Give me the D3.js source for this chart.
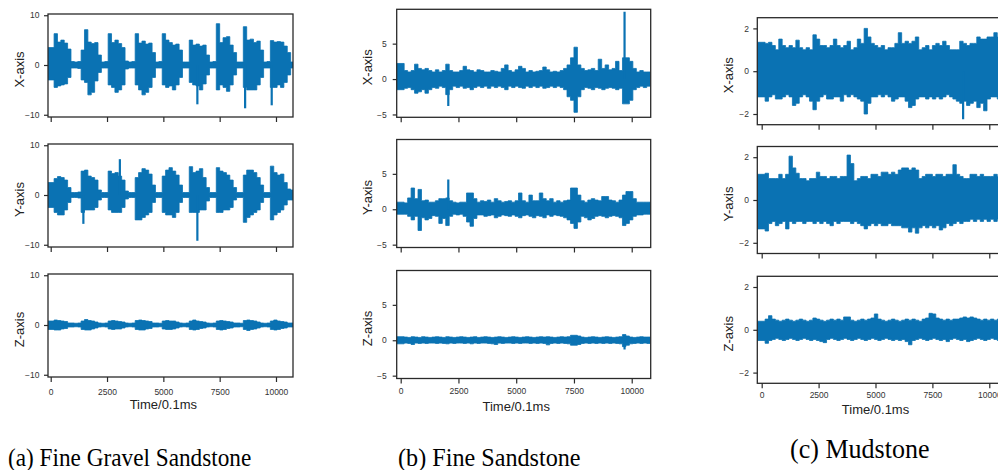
<!DOCTYPE html>
<html>
<head>
<meta charset="utf-8">
<script src="https://cdn.jsdelivr.net/npm/d3@7/dist/d3.min.js"></script>
<style>
  body { margin: 0; background: #fff; }
  svg { display: block; font-family: "Liberation Sans", Arial, sans-serif; }
</style>
</head>
<body>
<svg id="chart" width="998" height="470"></svg>
<script>
// --- Data: signal envelopes, one max/min value per bin of 150 samples ---
const binSize = 150;
const timeTicks = [0, 2500, 5000, 7500, 10000];
const gravelTicks = [-10, 0, 10];
const sandTicks = [-5, 0, 5];
const mudTicks = [-2, 0, 2];
const axisNames = ["X-axis", "Y-axis", "Z-axis"];
const captions = ["(a) Fine Gravel Sandstone", "(b) Fine Sandstone", "(c) Mudstone"];

// (a) Fine gravel sandstone
const gravelX_hi = [3.5,6.3,4.6,5.0,4.4,3.2, 0.7,0.6,0.7, 3.0,7.1,4.6,4.3,4.5,2.0, 0.6,0.7, 6.3,4.5,5.0,4.3,3.5,0.8, 0.6,0.7,
  6.3,4.4,4.8,4.2,4.4,2.5, 0.6,0.7, 6.3,5.0,4.5,4.0,4.2,3.0, 0.6,0.6, 5.0,4.0,4.2,3.8,4.0,2.0, 0.6,0.7,
  8.3,4.5,5.5,5.7,4.0,2.5, 0.6,0.6, 7.7,5.0,5.2,4.5,4.8,3.0, 0.6,0.7, 4.9,4.6,4.7,4.6,3.8,2.5, 0.6];
const gravelX_lo = [-3.0,-4.5,-4.2,-4.0,-3.8,-2.5, -0.6,-0.6,-0.7, -3.0,-3.5,-6.0,-5.5,-3.2,-1.5, -0.6,-0.6, -4.0,-4.5,-5.5,-5.0,-4.0,-0.8, -0.6,-0.6,
  -4.0,-5.0,-6.0,-5.5,-4.5,-2.5, -0.6,-0.6, -4.0,-4.5,-4.2,-5.0,-4.0,-2.5, -0.6,-0.6, -3.5,-4.0,-4.2,-5.0,-3.8,-2.0, -0.6,-0.6,
  -5.0,-4.0,-4.5,-5.3,-4.0,-2.0, -0.6,-0.6, -4.5,-5.0,-5.0,-5.0,-4.0,-2.5, -0.6,-0.6, -4.5,-4.5,-4.0,-4.5,-3.5,-2.0, -0.6];
const gravelX_spikes = [[6510, -7.9], [8630, -8.7], [9810, -8.1]];

const gravelY_hi = [2.5,3.3,3.7,3.5,3.0,1.5, 0.5,0.5,0.6, 4.8,5.0,3.8,3.5,3.0,1.0, 0.5,0.5, 4.8,4.3,4.5,3.8,3.0,0.8, 0.5,0.5,
  3.5,4.5,5.3,5.0,4.2,2.0, 0.5,0.5, 3.8,5.0,5.5,4.8,4.0,2.0, 0.5,0.5, 5.7,4.5,4.8,5.3,3.5,1.5, 0.5,0.5,
  5.5,4.8,4.5,4.0,3.0,1.5, 0.5,0.5, 4.0,5.0,5.0,4.5,3.5,2.0, 0.5,0.5, 5.8,4.5,4.0,4.2,2.5,1.2, 1.0];
const gravelY_lo = [-2.5,-3.5,-4.0,-4.0,-3.0,-1.5, -0.5,-0.5,-0.6, -3.5,-3.0,-3.0,-3.0,-2.5,-1.0, -0.5,-0.5, -3.0,-3.5,-3.5,-3.5,-2.5,-0.8, -0.5,-0.5,
  -5.0,-5.0,-4.5,-4.0,-3.5,-1.5, -0.5,-0.5, -3.5,-4.0,-4.0,-4.5,-3.5,-1.5, -0.5,-0.5, -3.5,-3.5,-3.5,-3.0,-3.0,-1.2, -0.5,-0.5,
  -3.5,-3.5,-3.0,-3.0,-2.5,-1.0, -0.5,-0.5, -5.5,-4.5,-4.0,-3.5,-3.0,-1.5, -0.5,-0.5, -5.0,-4.0,-3.5,-3.0,-2.0,-1.0, -1.0];
const gravelY_spikes = [[1450, -5.8], [3070, 7.2], [6510, -9.2]];

const gravelZ_hi = [0.8,1.0,0.9,0.8,0.7,0.4, 0.4,0.35,0.4, 0.8,1.1,0.9,0.8,0.6,0.4, 0.35,0.4, 0.8,0.9,0.8,0.7,0.6,0.4, 0.35,0.4,
  0.9,1.0,0.9,0.8,0.7,0.4, 0.4,0.35, 0.8,0.9,0.8,0.8,0.6,0.4, 0.35,0.4, 0.8,1.0,0.8,0.7,0.6,0.4, 0.35,0.4,
  0.8,0.9,0.8,0.7,0.6,0.4, 0.4,0.35, 0.9,1.0,0.9,0.8,0.6,0.4, 0.35,0.4, 0.8,1.0,0.8,0.7,0.6,0.4, 0.4];
const gravelZ_lo = [-0.9,-1.0,-1.0,-0.8,-0.7,-0.4, -0.4,-0.35,-0.4, -0.9,-1.0,-1.0,-0.8,-0.6,-0.4, -0.35,-0.4, -0.8,-0.9,-0.8,-0.8,-0.6,-0.4, -0.35,-0.4,
  -0.9,-1.0,-1.0,-0.8,-0.7,-0.4, -0.4,-0.35, -0.8,-0.9,-0.9,-0.8,-0.6,-0.4, -0.35,-0.4, -0.9,-1.0,-0.9,-0.7,-0.6,-0.4, -0.35,-0.4,
  -0.9,-1.0,-0.9,-0.7,-0.6,-0.4, -0.4,-0.35, -0.9,-1.1,-0.9,-0.8,-0.6,-0.4, -0.35,-0.4, -0.9,-1.0,-0.9,-0.7,-0.6,-0.4, -0.4];

// (b) Fine sandstone
const sandX_hi = [2.2,1.2,1.0,1.2,2.1,1.5,1.3,1.5,1.2,1.0,1.3,1.0,1.2,2.1,1.2,1.0,1.0,1.2,1.8,1.3,1.2,1.0,1.3,1.2,
  1.0,1.0,1.2,1.1,1.0,1.5,2.0,1.2,1.0,1.3,1.8,1.5,1.0,1.2,1.0,1.1,1.2,1.7,1.3,1.0,1.1,1.0,1.2,1.5,
  2.0,3.0,4.5,2.0,1.5,1.2,1.3,1.5,1.2,2.8,1.5,2.0,1.3,1.5,2.5,1.2,3.0,3.0,2.5,1.5,1.0,1.2,1.0,1.0];
const sandX_lo = [-1.5,-1.3,-1.2,-1.5,-2.0,-1.8,-1.5,-2.0,-1.5,-1.2,-1.3,-1.0,-1.2,-2.2,-1.5,-1.0,-1.2,-1.0,-1.3,-1.2,-1.5,-1.2,-1.0,-1.2,
  -1.0,-1.3,-1.0,-1.2,-1.0,-1.2,-1.5,-1.0,-1.2,-1.0,-1.2,-1.3,-1.0,-1.2,-1.0,-1.2,-1.0,-1.3,-1.2,-1.0,-1.2,-1.0,-1.2,-1.5,
  -2.5,-3.0,-4.7,-2.5,-1.5,-1.2,-1.3,-1.5,-1.2,-1.3,-1.5,-1.3,-1.2,-1.3,-1.5,-1.3,-3.5,-3.5,-3.0,-1.5,-1.2,-1.0,-1.2,-1.0];
const sandX_spikes = [[2060, -3.8], [9690, 9.5]];

const sandY_hi = [1.0,0.9,1.6,3.0,1.5,2.8,1.2,1.3,1.0,1.0,1.2,1.5,1.5,1.6,1.2,1.0,0.9,1.0,1.0,2.3,2.3,1.5,1.0,1.2,
  1.1,1.3,1.0,1.5,1.2,1.0,1.1,1.2,1.0,1.2,2.3,1.2,1.0,2.0,1.2,1.2,2.3,1.5,1.2,1.5,1.0,1.2,1.0,1.2,
  1.3,3.0,3.0,2.0,1.2,1.0,1.3,1.5,1.3,1.2,1.8,1.8,1.3,1.2,1.0,1.3,2.0,2.5,2.5,1.5,1.0,1.0,1.0,1.0];
const sandY_lo = [-0.7,-0.7,-1.0,-1.5,-1.0,-3.0,-1.2,-1.5,-1.3,-0.9,-1.0,-2.0,-1.3,-2.3,-1.0,-0.7,-0.8,-0.7,-1.0,-1.8,-2.4,-1.3,-0.8,-0.8,
  -1.0,-0.9,-0.8,-1.2,-1.0,-0.8,-0.9,-1.0,-0.8,-1.0,-1.2,-0.9,-0.8,-1.0,-1.2,-0.9,-1.0,-1.2,-0.8,-1.0,-0.8,-0.9,-1.0,-1.2,
  -1.5,-2.0,-2.7,-1.8,-1.0,-1.2,-1.5,-1.3,-1.0,-0.9,-1.0,-1.2,-1.0,-0.9,-1.0,-1.2,-2.3,-2.0,-1.5,-1.0,-0.8,-0.8,-0.7,-0.7];
const sandY_spikes = [[2060, 4.2]];

const sandZ_hi = [0.5,0.45,0.4,0.5,0.45,0.4,0.5,0.45,0.4,0.45,0.5,0.45,0.4,0.5,0.45,0.4,0.45,0.5,0.45,0.4,0.45,0.5,0.4,0.45,
  0.5,0.45,0.4,0.45,0.5,0.45,0.4,0.45,0.5,0.45,0.4,0.45,0.5,0.45,0.4,0.45,0.5,0.45,0.5,0.45,0.4,0.45,0.5,0.45,
  0.5,0.7,0.7,0.6,0.45,0.4,0.45,0.5,0.45,0.4,0.45,0.5,0.45,0.4,0.45,0.5,0.8,0.6,0.45,0.4,0.45,0.5,0.45,0.45];
const sandZ_lo = [-0.5,-0.4,-0.45,-0.6,-0.4,-0.45,-0.4,-0.45,-0.4,-0.4,-0.45,-0.4,-0.45,-0.5,-0.4,-0.45,-0.4,-0.4,-0.45,-0.4,-0.5,-0.4,-0.45,-0.4,
  -0.4,-0.45,-0.5,-0.6,-0.4,-0.45,-0.4,-0.4,-0.45,-0.4,-0.45,-0.4,-0.4,-0.45,-0.4,-0.45,-0.4,-0.45,-0.65,-0.45,-0.4,-0.45,-0.4,-0.45,
  -0.5,-0.7,-0.7,-0.6,-0.45,-0.4,-0.45,-0.4,-0.45,-0.4,-0.45,-0.4,-0.45,-0.4,-0.45,-0.5,-0.9,-0.7,-0.5,-0.45,-0.4,-0.45,-0.4,-0.45];
const sandZ_spikes = [[9690, -1.3]];

// (c) Mudstone
const mudX_hi = [1.35,1.3,1.35,1.2,1.0,1.5,1.2,1.1,1.2,1.1,1.45,1.1,1.0,1.1,1.0,1.7,1.5,1.2,1.2,1.1,1.2,1.5,1.2,1.1,
  1.2,1.4,1.0,1.1,1.5,1.3,2.0,1.6,1.3,1.2,1.1,1.2,1.0,1.1,1.1,1.3,1.8,1.3,1.4,1.3,1.4,1.6,1.0,1.1,
  1.2,1.0,1.2,1.3,1.2,1.4,1.2,1.0,1.0,1.0,1.4,1.3,1.2,1.3,1.3,1.6,1.5,1.5,1.6,1.6,1.8,1.6,1.6,1.5];
const mudX_lo = [-1.2,-1.4,-1.2,-1.1,-1.3,-1.3,-1.2,-1.1,-1.2,-1.6,-1.5,-1.2,-1.1,-1.2,-1.4,-1.8,-1.4,-1.2,-1.1,-1.3,-1.3,-1.2,-1.2,-1.4,
  -1.1,-1.2,-1.1,-1.2,-1.3,-1.4,-2.0,-1.5,-1.2,-1.2,-1.1,-1.2,-1.1,-1.2,-1.4,-1.3,-1.2,-1.2,-1.4,-1.7,-1.6,-1.3,-1.2,-1.2,
  -1.3,-1.2,-1.3,-1.2,-1.3,-1.2,-1.1,-1.2,-1.3,-1.4,-1.5,-1.4,-1.6,-1.5,-1.4,-1.7,-1.5,-1.85,-1.3,-1.2,-1.2,-1.3,-1.2,-1.2];
const mudX_spikes = [[8850, -2.25]];

const mudY_hi = [1.2,1.25,1.0,1.0,1.0,1.2,1.0,1.2,2.05,1.5,1.25,1.0,1.0,0.9,1.0,1.0,1.3,1.1,1.1,1.0,1.1,1.1,1.0,1.1,
  1.1,2.1,1.7,0.9,1.0,1.1,1.1,1.0,1.2,1.2,1.1,1.3,1.3,1.2,1.3,1.2,1.4,1.5,1.5,1.4,1.5,1.4,1.0,1.1,
  1.2,1.2,1.1,1.2,1.2,1.1,1.2,1.2,1.65,1.2,1.1,1.0,1.0,1.2,1.2,1.1,1.2,1.1,1.1,1.1,1.2,1.1,1.4,1.2];
const mudY_lo = [-1.35,-1.45,-1.1,-1.0,-1.2,-1.1,-1.0,-1.35,-1.0,-1.1,-1.0,-1.0,-1.1,-1.0,-1.0,-1.1,-1.0,-1.1,-1.0,-1.1,-1.2,-1.0,-1.1,-1.0,
  -1.0,-1.0,-1.1,-1.0,-1.1,-1.2,-1.35,-1.2,-1.1,-1.2,-1.1,-1.2,-1.2,-1.1,-1.2,-1.2,-1.2,-1.3,-1.3,-1.5,-1.3,-1.55,-1.3,-1.2,
  -1.3,-1.2,-1.3,-1.2,-1.4,-1.3,-1.1,-1.2,-1.1,-1.0,-1.1,-1.0,-1.0,-0.9,-1.0,-0.9,-1.0,-0.9,-1.0,-0.9,-1.0,-0.9,-1.0,-0.9];
const mudY_spikes = [];

const mudZ_hi = [0.4,0.5,0.66,0.5,0.45,0.4,0.45,0.5,0.45,0.4,0.45,0.5,0.45,0.4,0.45,0.55,0.5,0.45,0.4,0.45,0.5,0.45,0.5,0.45,
  0.6,0.6,0.45,0.4,0.45,0.5,0.45,0.5,0.55,0.74,0.5,0.45,0.4,0.45,0.5,0.45,0.4,0.45,0.5,0.45,0.5,0.45,0.4,0.5,
  0.55,0.77,0.74,0.55,0.5,0.45,0.5,0.45,0.5,0.5,0.55,0.6,0.55,0.6,0.55,0.5,0.45,0.5,0.45,0.5,0.45,0.5,0.45,0.45];
const mudZ_lo = [-0.5,-0.63,-0.5,-0.45,-0.4,-0.45,-0.5,-0.45,-0.4,-0.45,-0.5,-0.45,-0.4,-0.45,-0.5,-0.45,-0.5,-0.55,-0.6,-0.45,-0.4,-0.45,-0.5,-0.45,
  -0.4,-0.45,-0.5,-0.45,-0.4,-0.45,-0.5,-0.45,-0.4,-0.45,-0.5,-0.45,-0.4,-0.45,-0.5,-0.45,-0.5,-0.45,-0.55,-0.7,-0.5,-0.45,-0.4,-0.45,
  -0.5,-0.45,-0.4,-0.45,-0.5,-0.45,-0.55,-0.45,-0.4,-0.45,-0.5,-0.45,-0.55,-0.5,-0.45,-0.4,-0.45,-0.5,-0.45,-0.4,-0.45,-0.5,-0.45,-0.45];
const mudZ_spikes = [];

// --- Layout of the three columns ---
const columns = [
  { x0: 48, x1: 293, tDomain: [-120, 10755], yDomain: [-10.45, 10.25], yTicks: gravelTicks,
    tops: [14, 144, 274], h: 103, yPad: 4.5, labelX: 24, tickLabelY: 18, timeY: 409,
    captionX: 8, captionY: 466, captionSize: 25, captionScale: 0.93,
    series: [[gravelX_hi, gravelX_lo, gravelX_spikes], [gravelY_hi, gravelY_lo, gravelY_spikes], [gravelZ_hi, gravelZ_lo, []]] },
  { x0: 396.7, x1: 650.7, tDomain: [-173, 10822], yDomain: [-5.4, 9.85], yTicks: sandTicks,
    tops: [9.3, 139.5, 270.5], h: 108, yPad: 6, labelX: 371.5, tickLabelY: 15, timeY: 411,
    captionX: 398, captionY: 466, captionSize: 26, captionScale: 0.93,
    series: [[sandX_hi, sandX_lo, sandX_spikes], [sandY_hi, sandY_lo, sandY_spikes], [sandZ_hi, sandZ_lo, sandZ_spikes]] },
  { x0: 757.3, x1: 1007.5, tDomain: [-193, 10800], yDomain: [-2.5, 2.5], yTicks: mudTicks,
    tops: [17.7, 146.5, 276.3], h: 107, yPad: 4.3, labelX: 732.5, tickLabelY: 15, timeY: 414,
    captionX: 790, captionY: 458, captionSize: 28, captionScale: 0.93,
    series: [[mudX_hi, mudX_lo, mudX_spikes], [mudY_hi, mudY_lo, mudY_spikes], [mudZ_hi, mudZ_lo, mudZ_spikes]] }
];

const signalColor = "#0a72b3";
const frameColor = "#2a2a2a";
const svg = d3.select("#chart");
svg.append("rect").attr("width", 998).attr("height", 470).attr("fill", "#fff");

columns.forEach((col, ci) => {
  const x = d3.scaleLinear().domain(col.tDomain).range([col.x0, col.x1]);

  col.tops.forEach((top, ri) => {
    const y = d3.scaleLinear().domain(col.yDomain).range([top + col.h, top]);
    const [hi, lo, spikes] = col.series[ri];
    const clipId = `clip-${ci}-${ri}`;

    svg.append("clipPath").attr("id", clipId)
      .append("rect")
      .attr("x", col.x0).attr("y", top)
      .attr("width", col.x1 - col.x0).attr("height", col.h);

    const g = svg.append("g").attr("clip-path", `url(#${clipId})`);

    // envelope points: step per bin, last bin closed at its end
    const pts = d3.range(hi.length + 1).map(i => ({
      t: i === 0 ? col.tDomain[0] : i * binSize,
      hi: hi[Math.min(i, hi.length - 1)],
      lo: lo[Math.min(i, lo.length - 1)]
    }));

    const area = d3.area()
      .x(d => x(d.t))
      .y0(d => y(d.lo))
      .y1(d => y(d.hi))
      .curve(d3.curveStepAfter);

    g.append("path")
      .datum(pts)
      .attr("fill", signalColor)
      .attr("stroke", signalColor)
      .attr("stroke-width", 0.8)
      .attr("d", area);

    g.selectAll("line.spike")
      .data(spikes)
      .join("line")
      .attr("class", "spike")
      .attr("x1", d => x(d[0])).attr("x2", d => x(d[0]))
      .attr("y1", y(0)).attr("y2", d => y(d[1]))
      .attr("stroke", signalColor)
      .attr("stroke-width", 2.2);

    // frame
    svg.append("rect")
      .attr("x", col.x0).attr("y", top)
      .attr("width", col.x1 - col.x0).attr("height", col.h)
      .attr("fill", "none")
      .attr("stroke", frameColor)
      .attr("stroke-width", 1.3);

    // y axis
    const yAxisG = svg.append("g")
      .attr("transform", `translate(${col.x0},0)`)
      .call(d3.axisLeft(y).tickValues(col.yTicks).tickFormat(d3.format("d")).tickSize(4).tickPadding(col.yPad));
    yAxisG.select(".domain").remove();
    yAxisG.selectAll("line").attr("stroke", frameColor).attr("stroke-width", 1.2);
    yAxisG.selectAll("text").attr("font-size", "8.5px").attr("fill", "#333");

    // x axis
    const xAxisG = svg.append("g")
      .attr("transform", `translate(0,${top + col.h})`)
      .call(d3.axisBottom(x).tickValues(timeTicks).tickFormat(d3.format("d")).tickSize(5).tickSizeOuter(0));
    xAxisG.select(".domain").remove();
    xAxisG.selectAll("line").attr("stroke", frameColor).attr("stroke-width", 1.2);
    if (ri < 2) {
      xAxisG.selectAll("text").remove();
    } else {
      xAxisG.selectAll("text")
        .attr("dy", null)
        .attr("y", col.tickLabelY)
        .attr("font-size", "8.5px")
        .attr("fill", "#333");
    }

    // axis name
    svg.append("text")
      .attr("transform", `translate(${col.labelX},${top + col.h / 2 + 4}) rotate(-90)`)
      .attr("text-anchor", "middle")
      .attr("font-size", "13px")
      .attr("fill", "#222")
      .text(axisNames[ri]);
  });

  // time label
  svg.append("text")
    .attr("x", (x(0) + x(10000)) / 2)
    .attr("y", col.timeY)
    .attr("text-anchor", "middle")
    .attr("font-size", "13px")
    .attr("fill", "#222")
    .text("Time/0.1ms");

  // caption (serif, slightly condensed like the print figure)
  svg.append("text")
    .attr("transform", `translate(${col.captionX},${col.captionY}) scale(${col.captionScale},1)`)
    .attr("font-family", "'Liberation Serif', 'Times New Roman', serif")
    .attr("font-size", col.captionSize + "px")
    .attr("fill", "#000")
    .text(captions[ci]);
});
</script>
</body>
</html>
